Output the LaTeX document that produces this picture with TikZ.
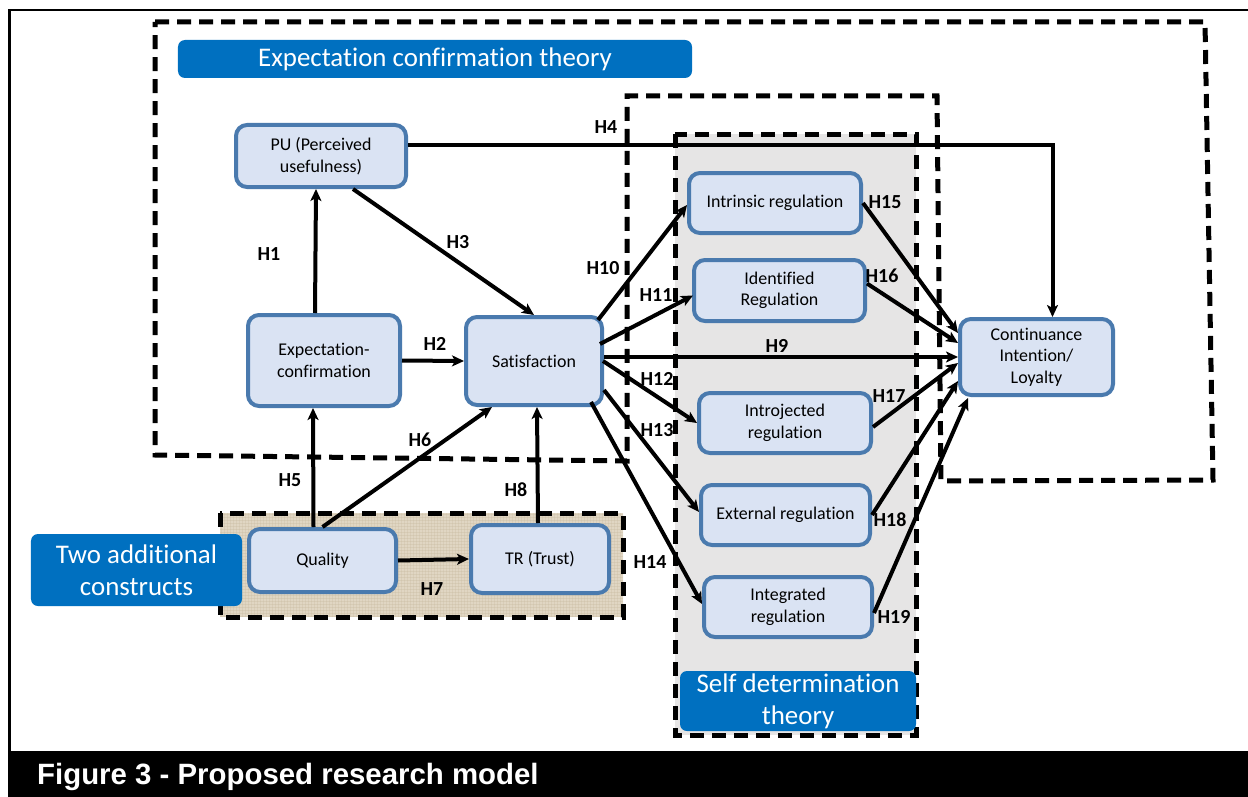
\documentclass[tikz,border=0pt]{standalone}
\usepackage{fontspec}
\setmainfont{Carlito}[Ligatures=NoCommon]
\newfontfamily\captionfont{Liberation Sans}
\usetikzlibrary{calc,arrows.meta}

\definecolor{nodefill}{HTML}{DAE3F3}
\definecolor{nodeline}{HTML}{4A7AAE}
\definecolor{bannerblue}{HTML}{0070C0}
\definecolor{sdtgray}{HTML}{E6E5E5}
\definecolor{burlap}{HTML}{E0D6C3}
\definecolor{weave}{HTML}{C9BBA0}

\begin{document}
\begin{tikzpicture}[x=1bp,y=-1bp,
  construct/.style={draw=nodeline, fill=nodefill, line width=4bp, rounded corners=11bp,
    align=center, inner sep=0pt, font=\fontsize{18}{21.5}\selectfont},
  banner/.style={fill=bannerblue, rounded corners=7bp, text=white, align=center,
    inner sep=0pt, font=\fontsize{27}{32}\selectfont},
  hyp/.style={font=\fontsize{20}{20}\selectfont\bfseries, inner sep=0pt},
  link/.style={line width=4bp, -{Stealth[length=12bp,width=11bp,inset=3bp]}},
  zone/.style={line width=5bp, dash pattern=on 14bp off 8bp},
]
\useasboundingbox (0,0) rectangle (1248,797);
\fill[white] (0,0) rectangle (1248,797);

% frame and caption band
\draw[line width=2.5bp] (9.5,797) -- (9.5,10) -- (1248,10);
\fill[black] (8,751) rectangle (1248,797);
\node[anchor=base west, inner sep=0pt, text=white,
  font=\captionfont\bfseries\fontsize{29.5}{29.5}\selectfont] (caption) at (37,784)
  {Figure 3 - Proposed research model};

% self determination zone
\fill[sdtgray] (675,134) rectangle (916,735);
\draw[zone] (675,134) rectangle (916,735);

% woven zone for the additional constructs
\fill[burlap] (220,513) rectangle (623,617);
\begin{scope}
  \clip (220,513) rectangle (623,617);
  \foreach \yy in {514,517,...,617} {
    \draw[weave, opacity=0.35, line width=0.7bp] (220,\yy) -- (623,\yy);
  }
  \foreach \xx in {221,224,...,623} {
    \draw[weave, opacity=0.3, line width=0.7bp] (\xx,513) -- (\xx,617);
  }
\end{scope}
\draw[zone] (220,513) rectangle (623,617);

% expectation confirmation zone
\draw[zone] (155,22) -- (1205,22) -- (1213,480) -- (941,481) -- (937,96)
  -- (627,96) -- (627,461) -- (155,455) -- cycle;

% banners
\node[banner, minimum width=514bp, minimum height=38bp] (ectbanner) at (435,59)
  {Expectation confirmation theory};
\node[banner, minimum width=211bp, minimum height=72bp] (addbanner) at (136.5,570)
  {Two additional\\constructs};
\node[banner, minimum width=236bp, minimum height=60bp] (sdtbanner) at (798,701)
  {Self determination\\theory};

% constructs
\node[construct, minimum width=170bp, minimum height=62bp] (pu) at (321,156)
  {PU (Perceived\\usefulness)};
\node[construct, minimum width=152bp, minimum height=91bp] (ec) at (324,360.5)
  {Expectation-\\confirmation};
\node[construct, minimum width=136bp, minimum height=88bp] (sat) at (534,361)
  {Satisfaction};
\node[construct, minimum width=147bp, minimum height=63bp] (qual) at (322.5,560.5)
  {Quality};
\node[construct, minimum width=138bp, minimum height=68bp] (tr) at (540,559)
  {TR (Trust)};
\node[construct, minimum width=172bp, minimum height=60bp] (intr) at (775,203)
  {Intrinsic regulation};
\node[construct, minimum width=171bp, minimum height=61bp] (ident) at (779.5,290.5)
  {Identified\\Regulation};
\node[construct, minimum width=172bp, minimum height=60bp] (intro) at (785,423)
  {Introjected\\regulation};
\node[construct, minimum width=169bp, minimum height=60bp] (ext) at (785.5,515)
  {External regulation};
\node[construct, minimum width=168bp, minimum height=60bp] (integ) at (788,607)
  {Integrated\\regulation};
\node[construct, minimum width=153bp, minimum height=76bp] (cont) at (1036.5,357)
  {Continuance\\Intention/\\Loyalty};

% hypothesised paths
\draw[link] ($(ec.north)+(-9,0)$) -- ($(pu.south)+(-5,0)$);
\draw[link] (ec.east) -- (sat.west);
\draw[link] ($(pu.south)+(32,0)$) -- (sat.north);
\draw[link] ($(pu.east)+(0,-11)$) -| ($(cont.north)+(16,0)$);
\draw[link] ($(qual.north)+(-9,0)$) -- ($(ec.south)+(-11,0)$);
\draw[link] (qual.north) -- ($(sat.south)+(-42,0)$);
\draw[link] (qual.east) -- (tr.west);
\draw[link] ($(tr.north)+(-2,0)$) -- ($(sat.south)+(3,0)$);
\draw[link] ($(sat.east)+(0,-4)$) -- (cont.west);
\draw[link] ($(sat.north east)+(-6,5)$) -- ($(intr.west)+(0,2)$);
\draw[link] ($(sat.east)+(-4,-17)$) -- ($(ident.west)+(1,5)$);
\draw[link] ($(sat.east)+(-1,0)$) -- (intro.west);
\draw[link] ($(sat.east)+(0,29)$) -- ($(ext.west)+(0,-3)$);
\draw[link] ($(sat.south east)+(-13,-5)$) -- ($(integ.west)+(0,-3)$);
\draw[link] (intr.east) -- ($(cont.west)+(0,-24)$);
\draw[link] ($(ident.east)+(0,-7)$) -- ($(cont.west)+(0,-14)$);
\draw[link] ($(intro.east)+(0,4)$) -- ($(cont.west)+(0,6)$);
\draw[link] (ext.east) -- ($(cont.west)+(0,24)$);
\draw[link] ($(integ.east)+(0,6)$) -- ($(cont.south west)+(10,1)$);

% hypothesis labels
\node[hyp] (h1) at (269,254) {H1};
\node[hyp] (h2) at (435,344) {H2};
\node[hyp] (h3) at (458,242) {H3};
\node[hyp] (h4) at (606,127) {H4};
\node[hyp] (h5) at (290,480) {H5};
\node[hyp] (h6) at (420,440) {H6};
\node[hyp] (h7) at (432,589) {H7};
\node[hyp] (h8) at (516,490) {H8};
\node[hyp] (h9) at (777,346) {H9};
\node[hyp] (h10) at (603,268) {H10};
\node[hyp] (h11) at (656,295) {H11};
\node[hyp] (h12) at (657,379) {H12};
\node[hyp] (h13) at (657,430) {H13};
\node[hyp] (h14) at (650,562) {H14};
\node[hyp] (h15) at (885,202) {H15};
\node[hyp] (h16) at (882,276) {H16};
\node[hyp] (h17) at (889,396) {H17};
\node[hyp] (h18) at (890,520) {H18};
\node[hyp] (h19) at (894,617) {H19};
\end{tikzpicture}
\end{document}
